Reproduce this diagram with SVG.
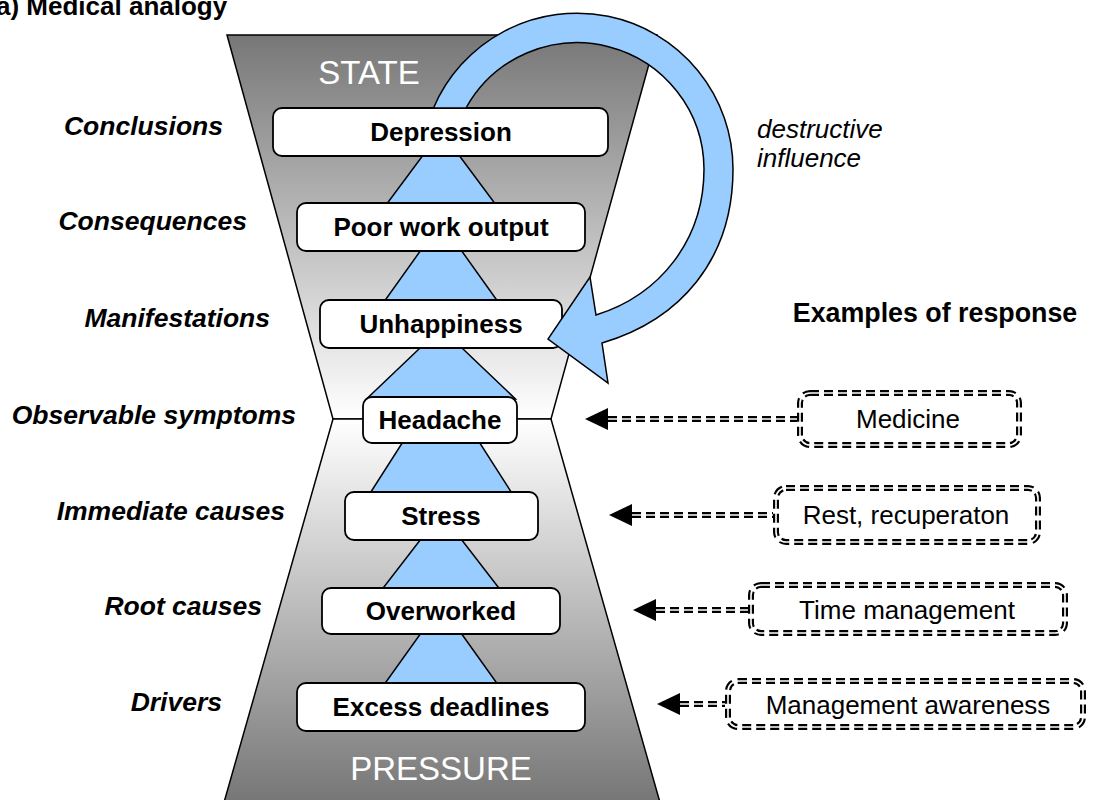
<svg xmlns="http://www.w3.org/2000/svg" width="1094" height="800" viewBox="0 0 1094 800">
<defs>
<linearGradient id="gTop" x1="0" y1="35" x2="0" y2="419" gradientUnits="userSpaceOnUse">
<stop offset="0" stop-color="#777777"/><stop offset="1" stop-color="#ffffff"/>
</linearGradient>
<linearGradient id="gBot" x1="0" y1="419" x2="0" y2="800" gradientUnits="userSpaceOnUse">
<stop offset="0" stop-color="#ffffff"/><stop offset="1" stop-color="#777777"/>
</linearGradient>
</defs>
<style>
.trap{stroke:#000;stroke-width:1.5;stroke-linejoin:miter}
.tri{fill:#99ccff;stroke:#000;stroke-width:1.5}
.box{fill:#fff;stroke:#000;stroke-width:1.8}
.bt{font-family:"Liberation Sans",Arial,sans-serif;font-weight:bold;font-size:26px;text-anchor:middle;fill:#000}
.lab{font-family:"Liberation Sans",Arial,sans-serif;font-weight:bold;font-style:italic;font-size:26.5px;text-anchor:end;fill:#000}
.big{font-family:"Liberation Sans",Arial,sans-serif;font-size:33px;text-anchor:middle;fill:#fff}
.dk{fill:none;stroke:#000;stroke-width:6;stroke-dasharray:9 5}
.dw{fill:none;stroke:#fff;stroke-width:1.6}
.rt{font-family:"Liberation Sans",Arial,sans-serif;font-size:26px;text-anchor:middle;fill:#000}
.ah{fill:#000}
.it{font-family:"Liberation Sans",Arial,sans-serif;font-style:italic;font-size:26px;fill:#000}
</style>
<rect width="1094" height="800" fill="#fff"/>
<text x="-4" y="15" font-family="Liberation Sans,Arial,sans-serif" font-weight="bold" font-size="26">a) Medical analogy</text>

<g id="hourglass">
<polygon class="trap" fill="url(#gTop)" points="227,35 657,35 551,419 333,419"/>
<polygon class="trap" fill="url(#gBot)" points="333,419 551,419 661,806 223,806"/>
<text class="big" x="369" y="84">STATE</text>
<text class="big" x="441" y="780">PRESSURE</text>
</g>

<g id="triangles">
<polygon class="tri" points="441,131 499,209 383,209"/>
<polygon class="tri" points="441,222 501,306 381,306"/>
<polygon class="tri" points="441,328 515.5,399 366.5,399"/>
<polygon class="tri" points="406,437 476,437 515,498 367,498"/>
<polygon class="tri" points="441,513 503.5,594 378.5,594"/>
<polygon class="tri" points="441,605 501,689 381,689"/>
</g>

<g id="node-depression"><rect class="box" x="273" y="108" width="335" height="48" rx="9"/><text class="bt" x="441" y="141">Depression</text></g>
<g id="node-poor"><rect class="box" x="297" y="203" width="288" height="48" rx="9"/><text class="bt" x="441" y="236">Poor work output</text></g>
<g id="node-unhappiness"><rect class="box" x="320" y="300" width="242" height="48" rx="9"/><text class="bt" x="441" y="333">Unhappiness</text></g>
<g id="node-headache"><rect class="box" x="363" y="397" width="154" height="46" rx="9"/><text class="bt" x="440" y="429">Headache</text></g>
<g id="node-stress"><rect class="box" x="345" y="492" width="193" height="48" rx="9"/><text class="bt" x="441" y="525">Stress</text></g>
<g id="node-overworked"><rect class="box" x="322" y="588" width="238" height="46" rx="9"/><text class="bt" x="441" y="620">Overworked</text></g>
<g id="node-excess"><rect class="box" x="297" y="683" width="288" height="48" rx="9"/><text class="bt" x="441" y="716">Excess deadlines</text></g>

<g id="labels">
<text class="lab" x="223" y="135">Conclusions</text>
<text class="lab" x="247" y="230">Consequences</text>
<text class="lab" x="270" y="327">Manifestations</text>
<text class="lab" x="296" y="424">Observable symptoms</text>
<text class="lab" x="285" y="520">Immediate causes</text>
<text class="lab" x="262" y="615">Root causes</text>
<text class="lab" x="222" y="711">Drivers</text>
</g>

<g id="connectors">
<path id="loop-arrow" fill="#99ccff" stroke="#000" stroke-width="1.5" stroke-linejoin="miter" d="M433.5,108 A156,156 0 0 1 733,169 C733,260 680,320 602,343 L608,383 L548,339 L590,277 L596,315 C660,295 704,240 704,169 A127,127 0 0 0 466,108 Z"/>
<g id="conn-medicine">
<line class="dk" x1="608" y1="419" x2="797" y2="419"/><line class="dw" x1="606" y1="419" x2="797" y2="419"/>
<polygon class="ah" points="585,419 608,408 608,430"/>
</g>
<g id="conn-rest">
<line class="dk" x1="632" y1="515" x2="773" y2="515"/><line class="dw" x1="630" y1="515" x2="773" y2="515"/>
<polygon class="ah" points="609,515 632,504 632,526"/>
</g>
<g id="conn-time">
<line class="dk" x1="656" y1="610" x2="748" y2="610"/><line class="dw" x1="654" y1="610" x2="748" y2="610"/>
<polygon class="ah" points="633,610 656,599 656,621"/>
</g>
<g id="conn-mgmt">
<line class="dk" x1="680" y1="704" x2="725" y2="704"/><line class="dw" x1="678" y1="704" x2="725" y2="704"/>
<polygon class="ah" points="657,704 680,693 680,715"/>
</g>
</g>

<text class="it" x="757" y="138">destructive</text>
<text class="it" x="757" y="167">influence</text>
<text x="935" y="322" font-family="Liberation Sans,Arial,sans-serif" font-weight="bold" font-size="26.8" text-anchor="middle" fill="#000">Examples of response</text>

<g id="node-medicine"><rect class="dk" x="800" y="393" width="219" height="52" rx="10"/><rect class="dw" x="800" y="393" width="219" height="52" rx="10"/><text class="rt" x="908" y="428">Medicine</text></g>
<g id="node-rest"><rect class="dk" x="776" y="488" width="262" height="54" rx="10"/><rect class="dw" x="776" y="488" width="262" height="54" rx="10"/><text class="rt" x="906" y="524">Rest, recuperaton</text></g>
<g id="node-time"><rect class="dk" x="751" y="585" width="314" height="48" rx="10"/><rect class="dw" x="751" y="585" width="314" height="48" rx="10"/><text class="rt" x="907" y="619">Time management</text></g>
<g id="node-mgmt"><rect class="dk" x="728" y="681" width="355" height="46" rx="10"/><rect class="dw" x="728" y="681" width="355" height="46" rx="10"/><text class="rt" x="908" y="714">Management awareness</text></g>
</svg>
